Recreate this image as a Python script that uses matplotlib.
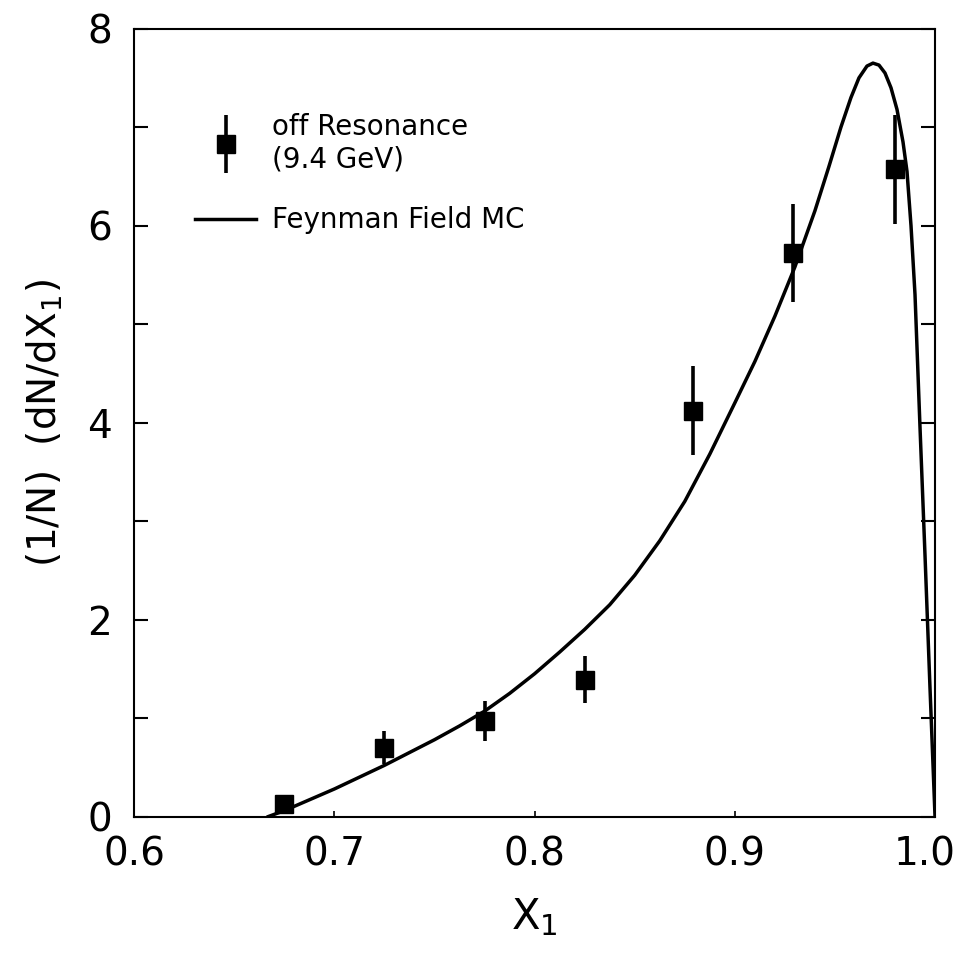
import matplotlib
matplotlib.use("Agg")
import matplotlib.pyplot as plt
import matplotlib.transforms as mtransforms
from matplotlib.container import ErrorbarContainer
from matplotlib.legend_handler import HandlerErrorbar

# data points: off resonance (9.4 GeV)
x_data = [0.675, 0.725, 0.775, 0.825, 0.879, 0.929, 0.980]
y_data = [0.13, 0.70, 0.97, 1.39, 4.12, 5.72, 6.57]
y_err = [0.08, 0.17, 0.20, 0.24, 0.45, 0.50, 0.55]

# Feynman Field MC curve
x_mc = [0.667, 0.675, 0.6875, 0.70, 0.7125, 0.725, 0.7375, 0.75, 0.7625,
        0.775, 0.7875, 0.80, 0.8125, 0.825, 0.8375, 0.85, 0.8625, 0.875,
        0.8875, 0.90, 0.91, 0.92, 0.93, 0.94, 0.947, 0.953, 0.958, 0.962,
        0.966, 0.969, 0.972, 0.975, 0.978, 0.981, 0.984, 0.986, 0.988,
        0.990, 0.9925, 0.995, 0.9975, 1.0]
y_mc = [0.0, 0.06, 0.17, 0.28, 0.40, 0.52, 0.65, 0.78, 0.92,
        1.07, 1.25, 1.45, 1.67, 1.90, 2.15, 2.45, 2.80, 3.20,
        3.68, 4.20, 4.62, 5.08, 5.58, 6.15, 6.60, 7.00, 7.30, 7.50,
        7.62, 7.65, 7.63, 7.55, 7.40, 7.18, 6.85, 6.55, 6.00,
        5.30, 3.95, 2.65, 1.30, 0.0]

plt.rcParams['font.family'] = ['DejaVu Sans']

fig = plt.figure(figsize=(9.59, 9.55), dpi=100)
ax = fig.add_axes([0.14, 0.145, 0.835, 0.825])

eb = ax.errorbar(x_data, y_data, yerr=y_err, fmt='s', color='black',
                 markersize=13, elinewidth=2.6, capsize=0,
                 label='off Resonance\n(9.4 GeV)')
mc, = ax.plot(x_mc, y_mc, color='black', linewidth=2.5,
              label='Feynman Field MC')

ax.set_xlim(0.6, 1.0)
ax.set_ylim(0, 8)
ax.set_xticks([0.6, 0.7, 0.8, 0.9, 1.0])
ax.set_xticklabels(['0.6', '0.7', '0.8', '0.9', '1.0'])
ax.set_yticks(range(0, 9, 2))
ax.set_yticks(range(0, 9), minor=True)
ax.tick_params(axis='y', which='both', direction='in', right=True,
               length=10, width=1.5, labelsize=28, pad=16)
ax.tick_params(axis='x', direction='in', length=4, width=1.2,
               labelsize=28, pad=14)
for s in ax.spines.values():
    s.set_linewidth(1.5)

# last x label sits a little inside the frame, as in the scan
last = ax.get_xticklabels()[-1]
last.set_transform(last.get_transform() +
                   mtransforms.ScaledTranslation(-0.1, 0, fig.dpi_scale_trans))

ax.set_xlabel('X$_1$', fontsize=30, labelpad=16)
ax.set_ylabel('(1/N)  (dN/dX$_1$)', fontsize=28, labelpad=16)

ax.legend([eb, mc], ['off Resonance\n(9.4 GeV)', 'Feynman Field MC'],
          loc='upper left', bbox_to_anchor=(0.045, 0.925), frameon=False,
          fontsize=20, handlelength=2.2, handletextpad=0.55,
          labelspacing=1.2, numpoints=1,
          handler_map={ErrorbarContainer: HandlerErrorbar(yerr_size=1.05)})

fig.savefig('out.png', dpi=100)
